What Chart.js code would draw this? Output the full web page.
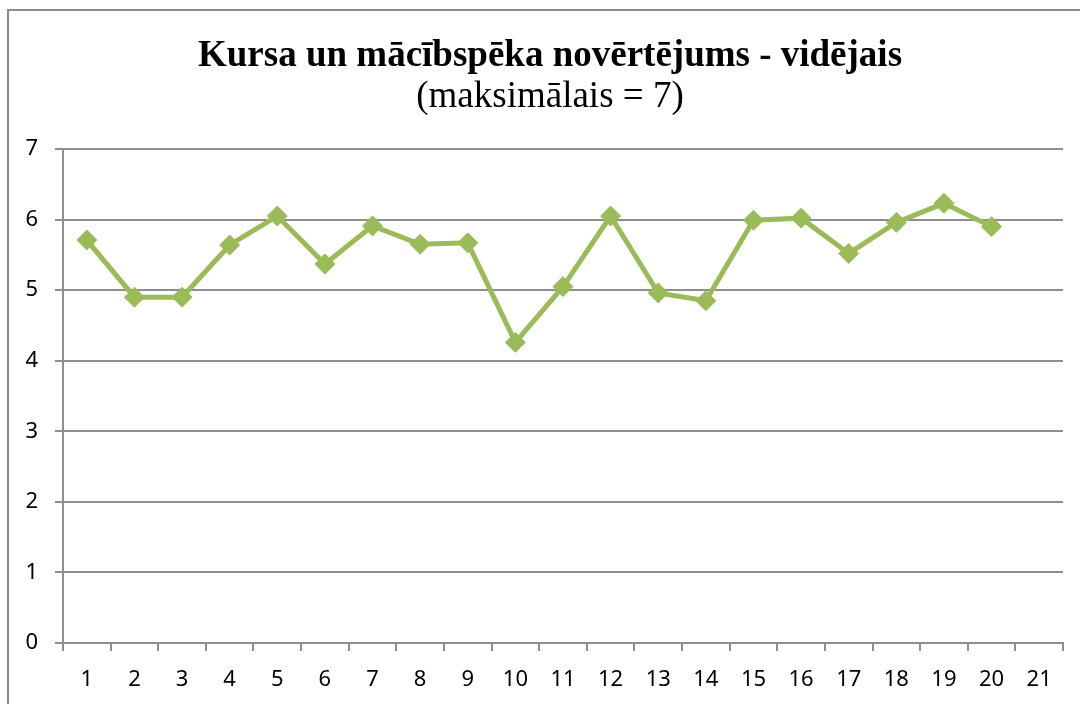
<!DOCTYPE html>
<html>
<head>
<meta charset="utf-8">
<title>Kursa un mācībspēka novērtējums</title>
<script src="https://cdn.jsdelivr.net/npm/chart.js@4.4.1/dist/chart.umd.min.js"></script>
<style>
  html, body { margin: 0; padding: 0; background: #fff; overflow: hidden; }
  #wrap {
    position: absolute; left: 7px; top: 9px;
    width: 1084px; height: 700px;
    border: 2px solid #8a8a8a;
  }
  #chart { display: block; }
</style>
</head>
<body>
<div id="wrap"><canvas id="chart" width="1084" height="700"></canvas></div>
<script>
  // categories along x (21 slots, last one empty)
  var CATEGORIES = ['1', '2', '3', '4', '5', '6', '7', '8', '9', '10', '11',
    '12', '13', '14', '15', '16', '17', '18', '19', '20', '21'];

  // average rating per item (max 7)
  var AVERAGES = [5.71, 4.90, 4.90, 5.64, 6.05, 5.37, 5.91, 5.65, 5.67, 4.26,
    5.05, 6.05, 4.96, 4.85, 5.99, 6.02, 5.52, 5.96, 6.23, 5.90];

  var Y_TICKS = [0, 1, 2, 3, 4, 5, 6, 7];

  var TITLE = 'Kursa un mācībspēka novērtējums - vidējais';
  var SUBTITLE = '(maksimālais = 7)';

  var green = '#9bbb59';
  var gridGray = '#8e8e8e';
  var serif = "'Liberation Serif', 'Times New Roman', serif";
  var sans = "'Noto Sans', sans-serif";

  new Chart(document.getElementById('chart'), {
    type: 'line',
    data: {
      labels: CATEGORIES,
      datasets: [{
        label: 'Vidējais',
        data: AVERAGES,
        borderColor: green,
        backgroundColor: green,
        borderWidth: 5,
        tension: 0,
        pointStyle: 'rectRot',
        pointRadius: 10,
        pointBorderWidth: 1,
        pointBorderColor: green,
        pointBackgroundColor: green
      }]
    },
    options: {
      responsive: false,
      animation: false,
      layout: { padding: { left: 0, right: 2, top: 0, bottom: 0 } },
      plugins: {
        legend: { display: false },
        tooltip: { enabled: false },
        title: {
          display: true,
          text: TITLE,
          color: '#000',
          font: { family: serif, size: 37, weight: 'bold', lineHeight: 1.1 },
          padding: { top: 25, bottom: 0 }
        },
        subtitle: {
          display: true,
          text: SUBTITLE,
          color: '#000',
          font: { family: serif, size: 37, weight: 'normal', lineHeight: 1.1 },
          padding: { top: 0, bottom: 31.6 }
        }
      },
      scales: {
        x: {
          offset: true,
          grid: { display: true, offset: true, drawOnChartArea: false, drawTicks: true, tickLength: 8, color: gridGray, lineWidth: 2 },
          border: { display: true, color: gridGray, width: 2 },
          ticks: { color: '#000', font: { family: sans, size: 22 }, padding: 16, maxRotation: 0, autoSkip: false },
          afterFit: function (scale) { scale.height = 68; }
        },
        y: {
          min: 0,
          max: 7,
          afterBuildTicks: function (scale) {
            scale.ticks = Y_TICKS.map(function (v) { return { value: v }; });
          },
          grid: { color: gridGray, lineWidth: 2, tickLength: 8 },
          border: { display: true, color: gridGray, width: 2 },
          ticks: { color: '#000', font: { family: sans, size: 22 }, padding: 17 },
          afterFit: function (scale) { scale.width = 54; }
        },
        // empty spacer on the right so the titles stay centred on the frame
        spacer: {
          type: 'linear',
          position: 'right',
          display: true,
          grid: { display: false, drawTicks: false },
          border: { display: false },
          ticks: { display: false },
          afterFit: function (scale) { scale.width = 28; }
        }
      }
    }
  });
</script>
</body>
</html>
